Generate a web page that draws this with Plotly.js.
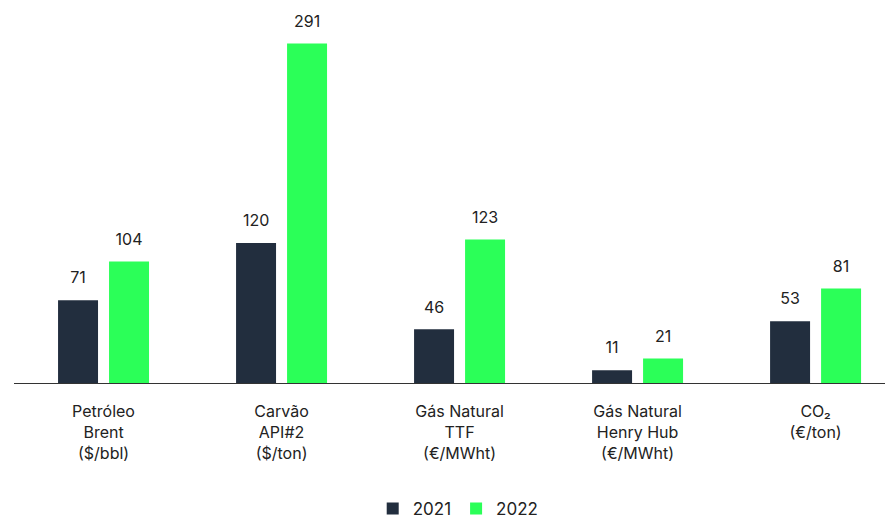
<!DOCTYPE html>
<html>
<head>
<meta charset="utf-8">
<script src="https://cdn.plot.ly/plotly-3.0.1.min.js"></script>
<style>html,body{margin:0;padding:0;background:#fff;}#chart{width:885px;height:519px;}</style>
</head>
<body>
<div id="chart"></div>
<script>
const categories = ["Petróleo<br>Brent<br>($/bbl)", "Carvão<br>API#2<br>($/ton)", "Gás Natural<br>TTF<br>(€/MWht)", "Gás Natural<br>Henry Hub<br>(€/MWht)", "CO₂<br>(€/ton)"];
const values2021 = [71, 120, 46, 11, 53];
const values2022 = [104, 291, 123, 21, 81];
const seriesNames = ["2021", "2022"];

const font = {family: "Inter, 'Open Sans', sans-serif", size: 16, color: "#222222"};
const colors = ["#222e3e", "#2bff58"];
const labelFont = {family: font.family, size: 9, color: "#222222"};
const tmpl = "<span style='font-size:16px'>%{y}</span><br> ";

const traces = [
  {type: "bar", name: seriesNames[0], x: categories, y: values2021, marker: {color: colors[0]},
   text: values2021, texttemplate: tmpl, textposition: "outside", cliponaxis: false, textfont: labelFont, hoverinfo: "none"},
  {type: "bar", name: seriesNames[1], x: categories, y: values2022, marker: {color: colors[1]},
   text: values2022, texttemplate: tmpl, textposition: "outside", cliponaxis: false, textfont: labelFont, hoverinfo: "none"}
];

const layout = {
  width: 885, height: 519,
  margin: {l: 14, r: 0, t: 10, b: 136, autoexpand: false},
  paper_bgcolor: "#ffffff", plot_bgcolor: "#ffffff",
  font: font,
  barmode: "group", bargap: 0.427, bargroupgap: 0.216,
  showlegend: true,
  legend: {orientation: "h", x: 0.51, xanchor: "center", y: -0.338, yanchor: "middle", font: {family: font.family, size: 17, color: "#222222"}, traceorder: "normal", itemwidth: 30},
  xaxis: {type: "category", range: [-0.503, 4.390], showline: true, linecolor: "#333333", linewidth: 1,
          showgrid: false, zeroline: false, ticks: "outside", ticklen: 14, tickcolor: "rgba(0,0,0,0)", tickfont: font, automargin: false},
  yaxis: {range: [0, 319.6], visible: false, showgrid: false, zeroline: false, fixedrange: true}
};

Plotly.newPlot("chart", traces, layout, {displayModeBar: false, staticPlot: true});
</script>
</body>
</html>
